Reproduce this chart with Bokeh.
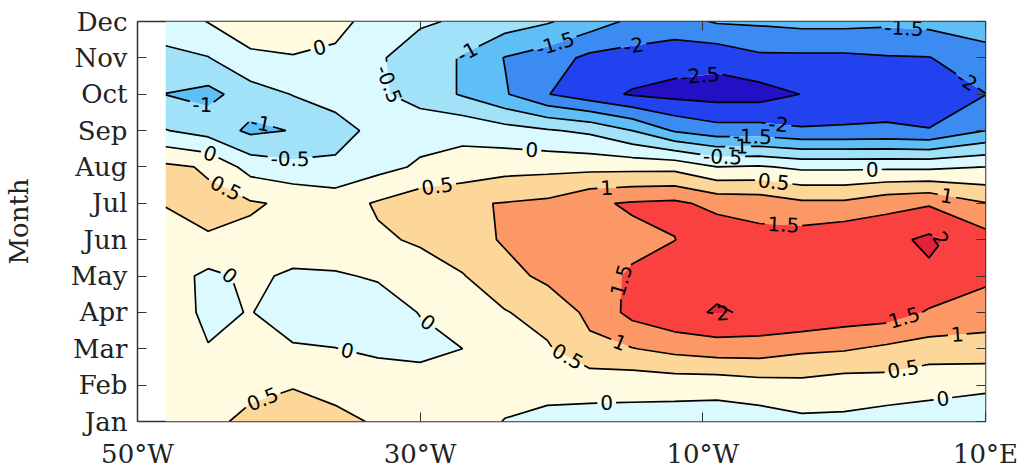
import numpy as np
from contourpy import contour_generator
from bokeh.plotting import figure
from bokeh.models import FixedTicker, LinearAxis, Range1d
from bokeh.core.properties import value
from bokeh.embed import file_html
from bokeh.resources import INLINE

# ---------------- data ----------------
month_names = ["Jan", "Feb", "Mar", "Apr", "May", "Jun",
               "Jul", "Aug", "Sep", "Oct", "Nov", "Dec"]
month_index = [1, 2, 3, 4, 5, 6, 7, 8, 9, 10, 11, 12]
lons = [-48, -45, -42, -39, -36, -33, -30, -27, -24, -21,
        -18, -15, -12, -9, -6, -3, 0, 3, 6, 10]
x_tick_values = [-50, -30, -10, 10]
x_tick_labels = ["50°W", "30°W", "10°W", "10°E"]
levels = [-3.0, -2.5, -2.0, -1.5, -1.0, -0.5, 0.0, 0.5, 1.0, 1.5, 2.0, 2.5]
band_colors = ["#2410c4", "#2342ef", "#3c8bf2", "#5ebff6", "#a2e2f9",
               "#dafaff", "#fefbe0", "#fdd69a", "#fb9866", "#f9423f", "#e2213a"]

jan = [0.3, 0.4, 0.6, 0.75, 0.62, 0.45, 0.3, 0.25, -0.02, -0.12,
       -0.16, -0.18, -0.25, -0.27, -0.24, -0.1, -0.09, -0.22, -0.18, -0.31]
feb = [0.25, 0.3, 0.4, 0.47, 0.35, 0.3, 0.25, 0.25, 0.2, 0.15,
       0.16, 0.16, 0.2, 0.19, 0.3, 0.35, 0.24, 0.28, 0.13, 0.09]
mar = [0.2, 0.02, 0.12, 0.05, 0.01, -0.1, -0.15, 0.0, 0.25, 0.44,
       0.9, 0.98, 1.15, 1.26, 1.25, 1.1, 1.05, 0.9, 0.78, 0.78]
apr = [0.25, -0.1, 0.02, -0.25, -0.3, -0.25, 0.02, 0.2, 0.47, 0.7,
       1.1, 1.65, 1.9, 2.03, 1.95, 1.95, 1.8, 1.75, 1.45, 1.27]
may = [0.25, -0.12, 0.1, -0.08, -0.05, 0.05, 0.32, 0.47, 0.85, 1.1,
       1.35, 1.55, 1.8, 1.9, 1.85, 1.85, 1.85, 1.9, 1.9, 1.6]
jun = [0.25, 0.47, 0.4, 0.3, 0.3, 0.44, 0.55, 0.8, 1.05, 1.25,
       1.4, 1.4, 1.49, 1.85, 1.66, 1.75, 1.9, 1.85, 2.1, 1.7]
jul = [0.53, 0.6, 0.55, 0.42, 0.29, 0.55, 0.8, 0.95, 1.02, 1.1,
       1.43, 1.55, 1.6, 1.35, 1.3, 1.1, 1.1, 1.35, 1.45, 1.02]
aug = [0.6, 0.45, -0.2, -0.37, -0.4, -0.16, 0.07, 0.15, 0.32, 0.35,
       0.35, 0.35, 0.35, 0.0, 0.05, -0.1, -0.1, -0.1, -0.1, 0.0]
sep = [-0.48, -0.7, -1.1, -0.98, -0.7, -0.35, -0.19, -0.11, -0.3, -0.45,
       -0.6, -1.0, -1.55, -1.8, -1.8, -1.94, -1.94, -1.91, -1.98, -1.5]
oct_ = [-1.01, -1.15, -0.75, -0.48, -0.3, -0.42, -0.7, -1.05, -1.45, -1.98,
        -2.3, -2.55, -2.65, -2.7, -2.7, -2.49, -2.3, -2.3, -2.25, -2.01]
nov = [-0.6, -0.52, -0.05, -0.02, -0.1, -0.45, -0.7, -1.05, -1.52, -1.75,
       -2.12, -2.2, -2.3, -2.35, -2.1, -2.1, -2.1, -2.04, -2.02, -1.65]
dec = [-0.3, 0.02, 0.15, 0.2, 0.15, -0.2, -0.45, -0.55, -0.75, -0.95,
       -1.25, -1.6, -1.7, -1.45, -1.42, -1.35, -1.35, -1.4, -1.35, -1.3]

Z = np.array([jan, feb, mar, apr, may, jun, jul, aug, sep, oct_, nov, dec], dtype=float)

# contour label placement hints: (level, approx lon, approx month) -> snapped onto the line
label_hints = [
    (0.0, -37.1, 11.26), (-1.0, -45.25, 9.94), (-1.0, -41.2, 9.33), (-0.5, -39.2, 8.23),
    (0.0, -45.1, 8.18), (0.5, -43.7, 7.46), (-0.5, -31.1, 10.32), (-1.0, -26.8, 11.26),
    (-1.5, -20.6, 11.56), (-2.0, -14.9, 11.34), (-2.5, -10.2, 10.52), (-1.5, 4.2, 11.62),
    (-2.0, 8.6, 10.32), (-2.0, -4.67, 9.09), (-1.5, -6.5, 8.78), (-1.0, -7.5, 8.51),
    (-0.5, -8.6, 8.29), (0.0, -22.1, 8.45), (0.0, 2.0, 7.82), (0.5, -28.8, 7.49),
    (0.5, -5.0, 7.55), (1.0, -16.8, 7.49), (1.0, 7.3, 7.27), (1.5, -4.3, 6.39),
    (2.0, 6.8, 5.98), (1.5, -15.7, 4.88), (2.0, -8.6, 4.0), (1.5, 4.2, 3.92),
    (1.0, 8.0, 3.42), (0.5, -19.6, 2.76), (1.0, -16.0, 3.04), (0.5, 4.2, 2.40),
    (0.0, -16.8, 1.52), (0.0, 7.0, 1.58), (0.0, -43.3, 5.24), (0.0, -29.5, 3.70),
    (0.0, -35.2, 2.87), (0.5, -41.4, 1.91),
]

# ---------------- figure ----------------
FW, FH = 848.0, 400.0
p = figure(width=1025, height=472, x_range=Range1d(-50, 10), y_range=Range1d(1, 12),
           output_backend="svg", toolbar_location=None,
           min_border_left=137, min_border_right=40, min_border_top=21, min_border_bottom=51)
p.grid.visible = False
p.outline_line_color = "#333333"
p.outline_line_width = 1.5
p.background_fill_color = "white"

p.contour(x=np.array(lons, float), y=np.array(month_index, float), z=Z,
          levels=levels, fill_color=band_colors)

# ---- contour lines with inline label gaps ----
SX = FW / 60.0
SY = FH / 11.0
LABEL_PX = 20.0


def to_px(a):
    return np.column_stack([(a[:, 0] + 50.0) * SX, (a[:, 1] - 1.0) * SY])


def to_data(a):
    return np.column_stack([a[:, 0] / SX - 50.0, a[:, 1] / SY + 1.0])


def arclen(P):
    d = np.hypot(np.diff(P[:, 0]), np.diff(P[:, 1]))
    return np.concatenate([[0.0], np.cumsum(d)])


def at(P, s, sv):
    return np.array([np.interp(sv, s, P[:, 0]), np.interp(sv, s, P[:, 1])])


def nearest(P, q):
    A = P[:-1]
    B = P[1:]
    AB = B - A
    L2 = (AB ** 2).sum(1)
    L2[L2 == 0] = 1e-12
    t = np.clip(((q - A) * AB).sum(1) / L2, 0, 1)
    proj = A + AB * t[:, None]
    d = np.hypot(proj[:, 0] - q[0], proj[:, 1] - q[1])
    i = int(np.argmin(d))
    s = arclen(P)
    return d[i], s[i] + t[i] * np.sqrt(L2[i])


def split(P, s0, half):
    s = arclen(P)
    L = s[-1]
    if len(P) > 3 and np.allclose(P[0], P[-1]):
        st = (s0 + L / 2.0) % L
        i = int(np.searchsorted(s, st))
        start = at(P, s, st)
        P = np.vstack([start[None, :], P[i:-1], P[:i], start[None, :]])
        s = arclen(P)
        s0 = s[-1] / 2.0
    lo, hi = s0 - half, s0 + half
    out = []
    if lo > 0:
        m = s < lo
        out.append(np.vstack([P[m], at(P, s, lo)[None, :]]))
    if hi < s[-1]:
        m = s > hi
        out.append(np.vstack([at(P, s, hi)[None, :], P[m]]))
    return out


def text_w(t):
    return sum({'-': 0.36, '.': 0.32}.get(ch, 0.636) for ch in t) * LABEL_PX


gen = contour_generator(np.array(lons, float), np.array(month_index, float), Z,
                        line_type="Separate")
lines = {}
for lev in levels:
    lines[lev] = [to_px(np.asarray(seg)) for seg in gen.lines(lev) if len(seg) > 1]

lab_x, lab_y, lab_t, lab_a = [], [], [], []
for lev, hx, hy in label_hints:
    q = np.array([(hx + 50.0) * SX, (hy - 1.0) * SY])
    best = None
    for k, P in enumerate(lines[lev]):
        if len(P) < 2:
            continue
        d, s0 = nearest(P, q)
        if best is None or d < best[0]:
            best = (d, k, s0)
    if best is None or best[0] > 40:
        continue
    d, k, s0 = best
    P = lines[lev][k]
    t = f"{lev:g}"
    half = text_w(t) / 2.0 + 3.0
    s = arclen(P)
    a = at(P, s, max(s0 - half, 0.0))
    b = at(P, s, min(s0 + half, s[-1]))
    ang = np.arctan2(b[1] - a[1], b[0] - a[0])
    if ang > np.pi / 2:
        ang -= np.pi
    elif ang < -np.pi / 2:
        ang += np.pi
    c = to_data(at(P, s, s0)[None, :])[0]
    lab_x.append(float(c[0]))
    lab_y.append(float(c[1]))
    lab_t.append(t)
    lab_a.append(float(ang))
    lines[lev] = lines[lev][:k] + split(P, s0, half) + lines[lev][k + 1:]

xs, ys = [], []
for lev in levels:
    for P in lines[lev]:
        if len(P) < 2:
            continue
        D = to_data(P)
        xs.append(D[:, 0].tolist())
        ys.append(D[:, 1].tolist())
p.multi_line(xs, ys, line_color="black", line_width=1.7)

p.text(x=lab_x, y=lab_y, text=lab_t, angle=lab_a, text_align="center",
       text_baseline="middle", text_font=value("DejaVu Sans"),
       text_font_size=f"{int(LABEL_PX)}px", text_color="black")

# ---------------- axes ----------------
SERIF = "DejaVu Serif"
p.xaxis.ticker = FixedTicker(ticks=x_tick_values)
p.xaxis.major_label_overrides = {v: l for v, l in zip(x_tick_values, x_tick_labels)}
p.yaxis.ticker = FixedTicker(ticks=month_index)
p.yaxis.major_label_overrides = {v: l for v, l in zip(month_index, month_names)}
for ax in (p.xaxis[0], p.yaxis[0]):
    ax.major_tick_in = 9
    ax.major_tick_out = 0
    ax.minor_tick_line_color = None
    ax.axis_line_color = None
    ax.major_tick_line_color = "#333333"
    ax.major_label_text_font = SERIF
    ax.major_label_text_font_size = "26px"
    ax.major_label_text_color = "#222222"
p.xaxis.major_label_standoff = 17
p.yaxis.major_label_standoff = 10
p.yaxis.axis_label = "Month"
p.yaxis.axis_label_text_font = SERIF
p.yaxis.axis_label_text_font_style = "normal"
p.yaxis.axis_label_text_font_size = "26px"
p.yaxis.axis_label_text_color = "#222222"
p.yaxis.axis_label_standoff = 34

right = LinearAxis(ticker=FixedTicker(ticks=month_index), major_label_text_font_size="9px",
                   major_label_text_color=None, major_label_standoff=0,
                   major_tick_in=9, major_tick_out=0,
                   minor_tick_line_color=None, axis_line_color=None,
                   major_tick_line_color="#333333")
top = LinearAxis(ticker=FixedTicker(ticks=x_tick_values), major_label_text_font_size="9px",
                 major_label_text_color=None, major_label_standoff=0,
                 major_tick_in=9, major_tick_out=0,
                 minor_tick_line_color=None, axis_line_color=None,
                 major_tick_line_color="#333333")
p.add_layout(right, "right")
p.add_layout(top, "above")

open("out.html", "w").write(file_html(p, INLINE))
